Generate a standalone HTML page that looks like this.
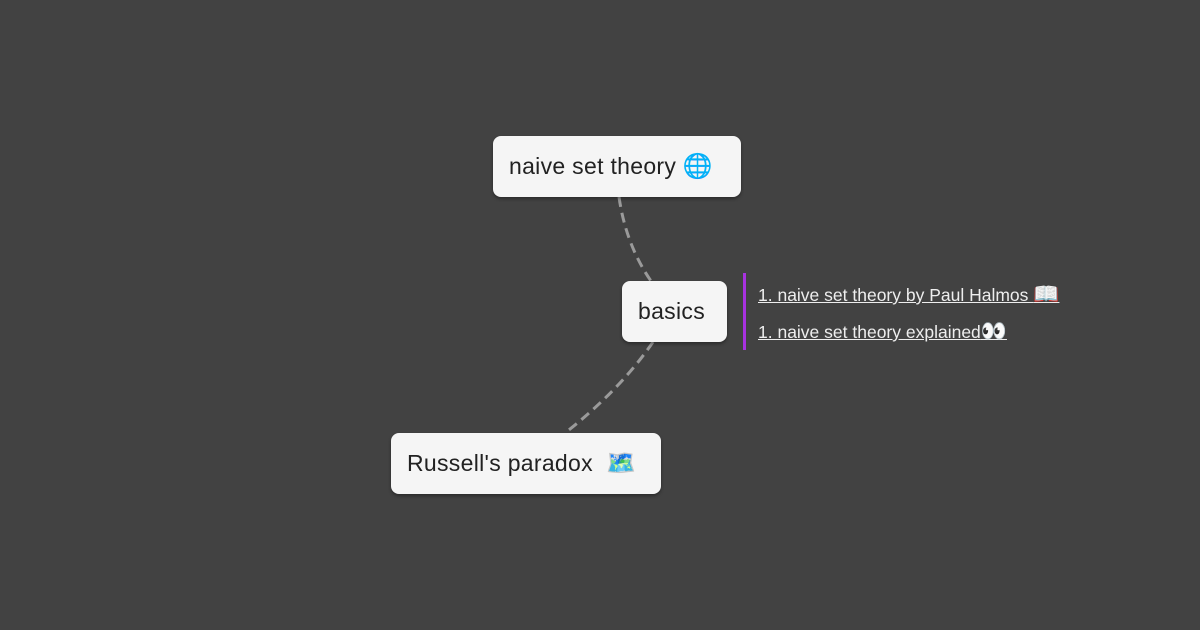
<!DOCTYPE html>
<html><head><meta charset="utf-8"><style>
body{margin:0;width:1200px;height:630px;background:#424242;position:relative;overflow:hidden;font-family:"Liberation Sans","DejaVu Sans",sans-serif}
.n{position:absolute;background:#f5f5f5;border-radius:8px;box-shadow:0 2px 3px rgba(0,0,0,.35);color:#222;font-size:23px;display:flex;align-items:center;padding-left:16px;box-sizing:border-box;white-space:nowrap;letter-spacing:0.3px}
.l{position:absolute;left:758px;color:#eee;font-size:17.5px;text-decoration:underline;white-space:nowrap}
</style></head><body>
<svg width="1200" height="630" style="position:absolute;left:0;top:0">
<path d="M619 197 Q626 245 651 281" stroke="#9a9a9a" stroke-width="3" fill="none" stroke-dasharray="10,6"/>
<path d="M653 342 Q620 390 565 433" stroke="#9a9a9a" stroke-width="3" fill="none" stroke-dasharray="10,6"/>
<rect x="743" y="273" width="3" height="77" fill="#a832e0"/>
</svg>
<div class="n" style="left:493px;top:136px;width:248px;height:61px">naive set theory&nbsp;<span style="font-size:24px">🌐</span></div>
<div class="n" style="left:622px;top:281px;width:105px;height:61px">basics</div>
<div class="n" style="left:391px;top:433px;width:270px;height:61px">Russell's paradox&nbsp;&nbsp;<span style="font-size:24px">🗺️</span></div>
<div class="l" style="top:283px">1. naive set theory by Paul Halmos <span style="font-size:21px">📖</span></div>
<div class="l" style="top:320px">1. naive set theory explained<span style="font-size:21px">👀</span></div>
</body></html>
